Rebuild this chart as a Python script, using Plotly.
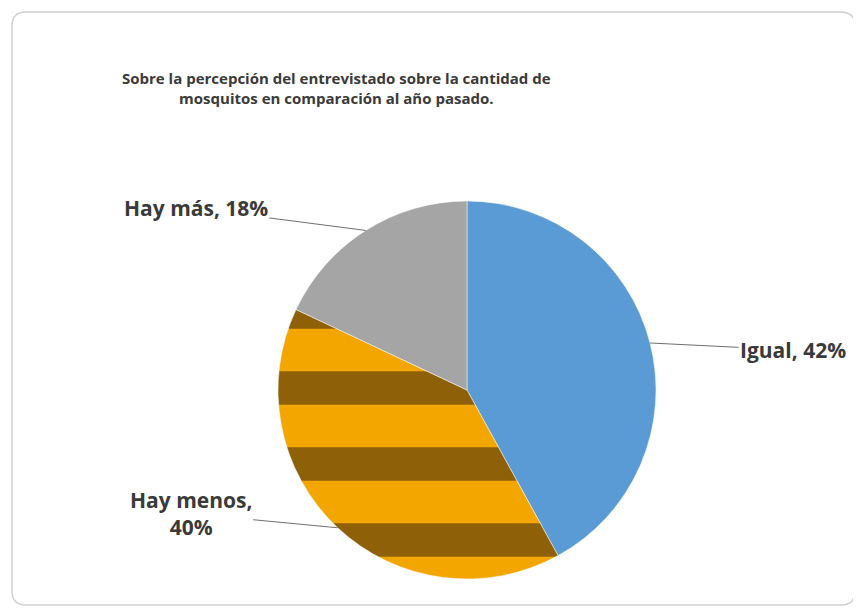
import math
import plotly.graph_objects as go

categories = ["Igual", "Hay menos", "Hay más"]
values = [42, 40, 18]
label_texts = ["Igual, 42%", "Hay menos,<br>40%", "Hay más, 18%"]
title_lines = ["Sobre la percepción del entrevistado sobre la cantidad de",
               "mosquitos en comparación al año pasado."]

W, H = 861, 614
OFF = 8  # page body margin compensation
cx, cy, r = 467 - OFF, 390 - OFF, 189  # pie centre / radius in pixels (from top-left)

dom_x = [(cx - r) / W, (cx + r) / W]
dom_y = [(H - cy - r) / H, (H - cy + r) / H]

fig = go.Figure(go.Pie(
    labels=categories,
    values=values,
    sort=False,
    direction="clockwise",
    rotation=0,
    textinfo="none",
    hoverinfo="label+percent",
    marker=dict(
        colors=["#5B9BD5", "#B97F05", "#A5A5A5"],
        line=dict(color="#FFFFFF", width=0.5),
        pattern=dict(
            shape=["", "-", ""],
            bgcolor=["#5B9BD5", "#8E6008", "#A5A5A5"],
            fgcolor=["#5B9BD5", "#F4A600", "#A5A5A5"],
            size=76,
            solidity=0.56,
        ),
    ),
    domain=dict(x=dom_x, y=dom_y),
    showlegend=False,
))

FONT = "Open Sans"
# leader-line label offsets (pixels, text centre relative to slice edge)
offsets = [(143, 7), (-147, -14), (-170, -22)]
total = sum(values)
annotations = []
cum = 0
for cat, v, txt, (ax, ay) in zip(categories, values, label_texts, offsets):
    mid = (cum + v / 2) / total
    cum += v
    ang = 2 * math.pi * mid
    px = cx + r * math.sin(ang)
    py = cy - r * math.cos(ang)
    annotations.append(dict(
        x=px / W, y=(H - py) / H, xref="paper", yref="paper",
        text="<br>".join("<b>" + t + "</b>" for t in txt.split("<br>")),
        showarrow=True, arrowhead=0, arrowwidth=1,
        arrowcolor="#6F6F6F", ax=ax, ay=ay,
        font=dict(family=FONT, size=21, color="#3A3A3A"),
        align="center",
    ))

annotations.append(dict(
    x=(336 - OFF) / W, y=(H - (88 - OFF)) / H, xref="paper", yref="paper",
    text="<br>".join("<b>" + t + "</b>" for t in title_lines),
    showarrow=False, align="center",
    font=dict(family=FONT, size=15, color="#3A3A3A"),
    xanchor="center", yanchor="middle",
))

# rounded border
x0, y0, x1, y1, rad = 12 - OFF, 12 - OFF, 855 - OFF, 605 - OFF, 14
def P(x, y):
    return f"{x / W:.5f},{(H - y) / H:.5f}"
path = (f"M {P(x0 + rad, y0)} L {P(x1 - rad, y0)} Q {P(x1, y0)} {P(x1, y0 + rad)} "
        f"L {P(x1, y1 - rad)} Q {P(x1, y1)} {P(x1 - rad, y1)} "
        f"L {P(x0 + rad, y1)} Q {P(x0, y1)} {P(x0, y1 - rad)} "
        f"L {P(x0, y0 + rad)} Q {P(x0, y0)} {P(x0 + rad, y0)} Z")

fig.update_layout(
    width=W, height=H,
    margin=dict(l=0, r=0, t=0, b=0),
    paper_bgcolor="#FFFFFF",
    plot_bgcolor="#FFFFFF",
    annotations=annotations,
    shapes=[dict(type="path", path=path, xref="paper", yref="paper",
                 line=dict(color="#D0D0D0", width=1.5), layer="below")],
)

fig.write_html("out.html")
